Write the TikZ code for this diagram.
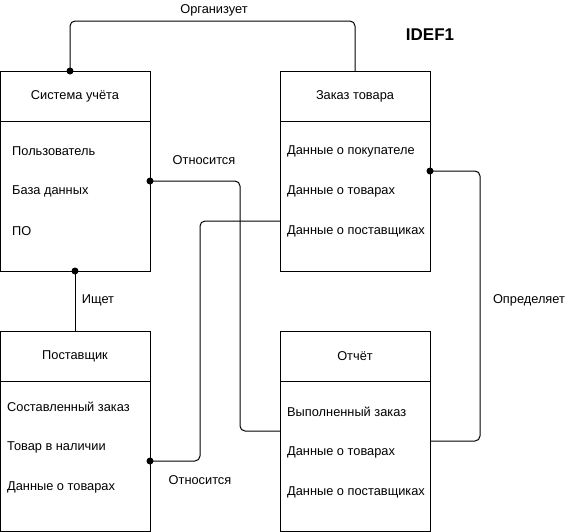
\documentclass[tikz,border=0pt]{standalone}
\usepackage{fontspec}
\setmainfont{Liberation Sans}
\usetikzlibrary{positioning,calc}
\tikzset{>=latex}

\begin{document}
\begin{tikzpicture}[x=1pt,y=-1pt,
		head/.style={draw,line width=1pt,outer sep=0pt,inner sep=0pt,minimum width=150pt,minimum height=50pt,font=\fontsize{12.8}{14}\selectfont},
		body/.style={draw,line width=1pt,outer sep=0pt,inner sep=0pt,minimum width=150pt,minimum height=150pt},
		item/.style={anchor=west,inner sep=0pt,font=\fontsize{12.8}{14}\selectfont},
		lbl/.style={inner sep=0pt,font=\fontsize{12.8}{14}\selectfont},
		link/.style={line width=1pt,rounded corners=5pt},
		dot/.style={circle,fill,inner sep=0pt,minimum size=7pt}]
		\useasboundingbox (0,0) rectangle (571,531);
		% entities
		\node[head] (sysh) at (75,96) {Система учёта};
		\node[body,below=0pt of sysh] (sysb) {};
		\node[head] (ordh) at (355,96) {Заказ товара};
		\node[body,below=0pt of ordh] (ordb) {};
		\node[head] (suph) at (75,356) {Поставщик};
		\node[body,below=0pt of suph] (supb) {};
		\node[head] (reph) at (355,356) {Отчёт};
		\node[body,below=0pt of reph] (repb) {};
		% attributes
		\node[item] (sys1) at ($(sysb.north west)+(12,30)$) {Пользователь};
		\node[item] (sys2) at ($(sysb.north west)+(12,70)$) {База данных};
		\node[item] (sys3) at ($(sysb.north west)+(12,110)$) {ПО};
		\node[item] (ord1) at ($(ordb.north west)+(7,30)$) {Данные о покупателе};
		\node[item] (ord2) at ($(ordb.north west)+(7,70)$) {Данные о товарах};
		\node[item] (ord3) at ($(ordb.north west)+(7,110)$) {Данные о поставщиках};
		\node[item] (sup1) at ($(supb.north west)+(7,26)$) {Составленный заказ};
		\node[item] (sup2) at ($(supb.north west)+(7,66)$) {Товар в наличии};
		\node[item] (sup3) at ($(supb.north west)+(7,106)$) {Данные о товарах};
		\node[item] (rep1) at ($(repb.north west)+(7,31)$) {Выполненный заказ};
		\node[item] (rep2) at ($(repb.north west)+(7,71)$) {Данные о товарах};
		\node[item] (rep3) at ($(repb.north west)+(7,111)$) {Данные о поставщиках};
		% connector ends
		\coordinate (d1) at ($(sysh.north west)+(70,0)$);
		\coordinate (e1) at ($(ordh.north west)+(75,0)$);
		\coordinate (d2) at ($(sysb.north east)+(0,60)$);
		\coordinate (e2) at ($(repb.north west)+(0,50)$);
		\coordinate (d3) at ($(supb.north east)+(0,80)$);
		\coordinate (e3) at ($(ordb.north west)+(0,100)$);
		\coordinate (d4) at (sysb.south);
		\coordinate (d5) at ($(ordb.north east)+(0,50)$);
		\coordinate (e5) at ($(repb.north east)+(0,60)$);
		% relations
		\draw[link] (d1) -- ++(0,-50) -| (e1);
		\draw[link] (d2) -- ++(90,0) |- (e2);
		\draw[link] (d3) -- ++(50,0) |- (e3);
		\draw[link] (d4) -- (suph.north);
		\draw[link] (d5) -- ++(50,0) |- (e5);
		\foreach \p in {d1,d2,d3,d4,d5}
			\node[dot] at (\p) {};
		\node[lbl] (org) at (214,10) {Организует};
		\node[lbl] (rel1) at (204,160) {Относится};
		\node[lbl] (rel2) at (200,480) {Относится};
		\node[lbl] (find) at (98,300) {Ищет};
		\node[lbl] (def) at (529,300) {Определяет};
		\node[inner sep=0pt,font=\fontsize{17}{19}\selectfont\bfseries] (title) at (430,35) {IDEF1};
	\end{tikzpicture}
\end{document}
